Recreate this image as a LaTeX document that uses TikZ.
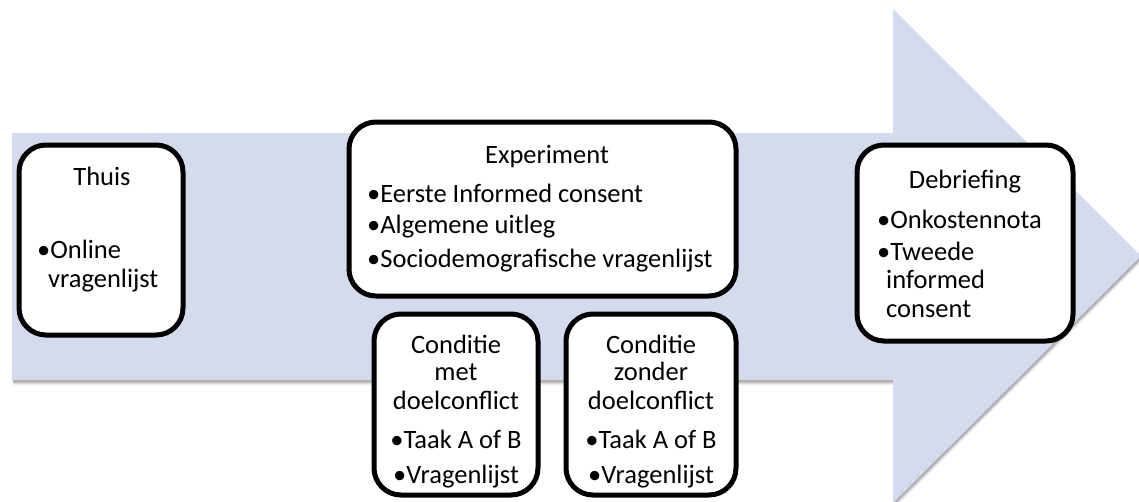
\documentclass[tikz,border=0pt]{standalone}
\usepackage{fontspec}
\setmainfont{Carlito}
\definecolor{arrowfill}{RGB}{212,219,236}
\begin{document}
\begin{tikzpicture}[x=1pt,y=-1pt,
  box/.style={draw=black, line width=5pt, fill=white, rounded corners=27pt, inner sep=0pt},
  txt/.style={inner sep=0pt, font=\fontsize{26.5}{30}\selectfont}]
\useasboundingbox (0,0) rectangle (1139,501);
\clip (0,0) rectangle (1139,501);
% soft shadow
\foreach \d/\o in {5/0.06,4/0.08,3/0.10,2/0.12}{
  \fill[black, opacity=\o, shift={(\d*0.3,\d)}] (12,133) -- (893,133) -- (893,9) -- (1141,256) -- (893,503) -- (893,380) -- (12,380) -- cycle;
}
% big arrow
\fill[arrowfill] (12,133) -- (893,133) -- (893,9) -- (1141,256) -- (893,503) -- (893,380) -- (12,380) -- cycle;
% boxes
\node[box, minimum width=164pt, minimum height=190pt] (thuis) at (101,240) {};
\node[box, minimum width=387pt, minimum height=174pt] (exp) at (542.5,209) {};
\node[box, minimum width=164pt, minimum height=181pt] (c1) at (456,404.5) {};
\node[box, minimum width=170pt, minimum height=181pt] (c2) at (651,404.5) {};
\node[box, minimum width=216pt, minimum height=196pt] (deb) at (965,243) {};
% Thuis
\node[txt, anchor=base] (t0) at (102,185) {Thuis};
\node[txt, anchor=base west] (t1) at (37,258) {•Online};
\node[txt, anchor=base west] (t2) at (48,287) {vragenlijst};
% Experiment
\node[txt, anchor=base] (e0) at (547,163) {Experiment};
\node[txt, anchor=base west] (e1) at (367,202) {•Eerste Informed consent};
\node[txt, anchor=base west] (e2) at (367,233) {•Algemene uitleg};
\node[txt, anchor=base west] (e3) at (367,267) {•Sociodemografische vragenlijst};
% Conditie met
\node[txt, anchor=base] (a0) at (456,353) {Conditie};
\node[txt, anchor=base] (a1) at (456,380) {met};
\node[txt, anchor=base] (a2) at (456,409) {doelconflict};
\node[txt, anchor=base] (a3) at (456,448) {•Taak A of B};
\node[txt, anchor=base] (a4) at (456,483) {•Vragenlijst};
% Conditie zonder
\node[txt, anchor=base] (b0) at (651,353) {Conditie};
\node[txt, anchor=base] (b1) at (651,380) {zonder};
\node[txt, anchor=base] (b2) at (651,409) {doelconflict};
\node[txt, anchor=base] (b3) at (651,448) {•Taak A of B};
\node[txt, anchor=base] (b4) at (651,483) {•Vragenlijst};
% Debriefing
\node[txt, anchor=base] (d0) at (965,188) {Debriefing};
\node[txt, anchor=base west] (d1) at (877,228) {•Onkostennota};
\node[txt, anchor=base west] (d2) at (877,260) {•Tweede};
\node[txt, anchor=base west] (d3) at (886,288) {informed};
\node[txt, anchor=base west] (d4) at (886,317) {consent};
\end{tikzpicture}
\end{document}
